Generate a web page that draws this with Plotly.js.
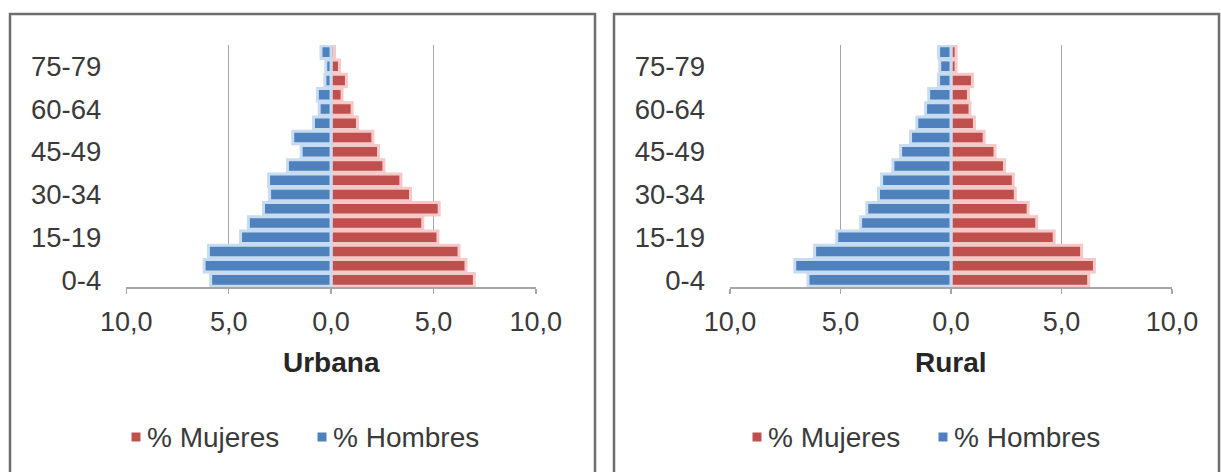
<!DOCTYPE html>
<html>
<head>
<meta charset="utf-8">
<script src="https://cdn.plot.ly/plotly-3.0.1.min.js"></script>
<style>
html,body{margin:0;padding:0;background:#fff;}
#chart{width:1221px;height:472px;}
</style>
</head>
<body>
<div id="chart"></div>
<script>
// Age groups (bottom to top)
const ageGroups = ['0-4','5-9','10-14','15-19','20-24','25-29','30-34','35-39','40-44','45-49','50-54','55-59','60-64','65-69','70-74','75-79','80+'];
const shownAgeLabels = ['0-4','15-19','30-34','45-49','60-64','75-79'];

// Urbana
const urbanaMujeres = [7.00,6.59,6.25,5.22,4.48,5.28,3.88,3.41,2.58,2.32,2.04,1.29,1.03,0.54,0.75,0.41,0.17];
const urbanaHombres = [5.88,6.20,5.99,4.42,4.04,3.30,3.00,3.05,2.13,1.46,1.87,0.86,0.58,0.67,0.30,0.26,0.49];

// Rural
const ruralMujeres = [6.23,6.49,5.91,4.67,3.88,3.49,2.91,2.82,2.42,1.99,1.50,1.06,0.86,0.79,0.97,0.23,0.23];
const ruralHombres = [6.47,7.07,6.17,5.17,4.09,3.81,3.28,3.14,2.63,2.28,1.83,1.55,1.15,1.01,0.56,0.51,0.56];

const xTickVals = [-10,-5,0,5,10];
const xTickText = ['10,0','5,0','0,0','5,0','10,0'];

const panelTitles = ['Urbana','Rural'];
const seriesNames = ['% Mujeres','% Hombres'];

const W = 1221, H = 472;
const px = v => v / W;
const py = v => 1 - v / H;

const red = '#C0504D', redGlow = '#F4C9C8';
const blue = '#4F81BD', blueGlow = '#C7DCF1';
const textColor = '#3A3A3A';
const gridColor = '#A6A6A6';
const FONT = 'Liberation Sans, Arial, sans-serif';

function mkTraces(muj, hom, xa, ya) {
  return [
    {type:'bar', orientation:'h', name:seriesNames[0], y:ageGroups, x:muj,
     xaxis:xa, yaxis:ya, showlegend:false,
     marker:{color:red, line:{color:redGlow, width:3}}},
    {type:'bar', orientation:'h', name:seriesNames[1], y:ageGroups, x:hom.map(v=>-v),
     xaxis:xa, yaxis:ya, showlegend:false,
     marker:{color:blue, line:{color:blueGlow, width:3}}}
  ];
}

const data = [
  ...mkTraces(urbanaMujeres, urbanaHombres, 'x', 'y'),
  ...mkTraces(ruralMujeres, ruralHombres, 'x2', 'y2')
];

function xaxisDef(domain) {
  return {
    domain: domain, range:[-10,10], tickvals:xTickVals, ticktext:xTickText,
    showgrid:true, gridcolor:gridColor, gridwidth:1.5,
    zeroline:true, zerolinecolor:gridColor, zerolinewidth:1.5,
    showline:true, linecolor:gridColor, linewidth:1.5,
    ticks:'outside', ticklen:5, tickcolor:gridColor, tickwidth:1.5,
    ticklabelstandoff:5,
    tickfont:{size:27, color:textColor, family:FONT},
    fixedrange:true
  };
}
function yaxisDef(domain, anchor) {
  return {
    domain: domain, anchor: anchor, type:'category', categoryorder:'array', categoryarray:ageGroups,
    range:[-0.5, 16.5], tickvals:shownAgeLabels, ticktext:shownAgeLabels,
    showgrid:false, zeroline:false, showline:false, ticks:'',
    ticklabelstandoff:24,
    tickfont:{size:27.5, color:textColor, family:FONT},
    fixedrange:true
  };
}

const yDomain = [py(287), py(45)];

// legend built per panel: square centre x for each series
const legendRows = [
  {sq:[136, 322], y:437},
  {sq:[757, 943], y:437}
];
const legendColors = [red, blue];

const annotations = [
  {text:'<b>'+panelTitles[0]+'</b>', xref:'paper', yref:'paper', x:px(331), y:py(362),
   xanchor:'center', yanchor:'middle', showarrow:false, font:{size:28, color:'#262626', family:FONT}},
  {text:'<b>'+panelTitles[1]+'</b>', xref:'paper', yref:'paper', x:px(951), y:py(362),
   xanchor:'center', yanchor:'middle', showarrow:false, font:{size:28, color:'#262626', family:FONT}}
];
const shapes = [
  {type:'rect', xref:'paper', yref:'paper', x0:px(10), x1:px(595), y0:-0.05, y1:py(14),
   line:{color:'#6E6E6E', width:2.5}, fillcolor:'rgba(0,0,0,0)', layer:'below'},
  {type:'rect', xref:'paper', yref:'paper', x0:px(614), x1:px(1219), y0:-0.05, y1:py(14),
   line:{color:'#6E6E6E', width:2.5}, fillcolor:'rgba(0,0,0,0)', layer:'below'}
];
legendRows.forEach(row => {
  row.sq.forEach((sx, i) => {
    shapes.push({type:'rect', xref:'paper', yref:'paper',
      x0:px(sx-4.5), x1:px(sx+4.5), y0:py(row.y+4.5), y1:py(row.y-4.5),
      line:{width:0}, fillcolor:legendColors[i]});
    annotations.push({text:seriesNames[i], xref:'paper', yref:'paper', x:px(sx+9), y:py(row.y),
      xanchor:'left', yanchor:'middle', showarrow:false, font:{size:28, color:textColor, family:FONT}});
  });
});

const layout = {
  width:W, height:H,
  margin:{l:0, r:0, t:0, b:0},
  paper_bgcolor:'#fff', plot_bgcolor:'rgba(0,0,0,0)',
  barmode:'relative', bargap:0.12,
  font:{family:FONT, color:textColor},
  xaxis: Object.assign(xaxisDef([px(126.3), px(535.8)]), {anchor:'y'}),
  yaxis: yaxisDef(yDomain, 'x'),
  xaxis2: Object.assign(xaxisDef([px(730), px(1172)]), {anchor:'y2'}),
  yaxis2: yaxisDef(yDomain, 'x2'),
  annotations: annotations,
  shapes: shapes,
  showlegend:false
};

Plotly.newPlot('chart', data, layout, {displayModeBar:false, staticPlot:true});
</script>
</body>
</html>
